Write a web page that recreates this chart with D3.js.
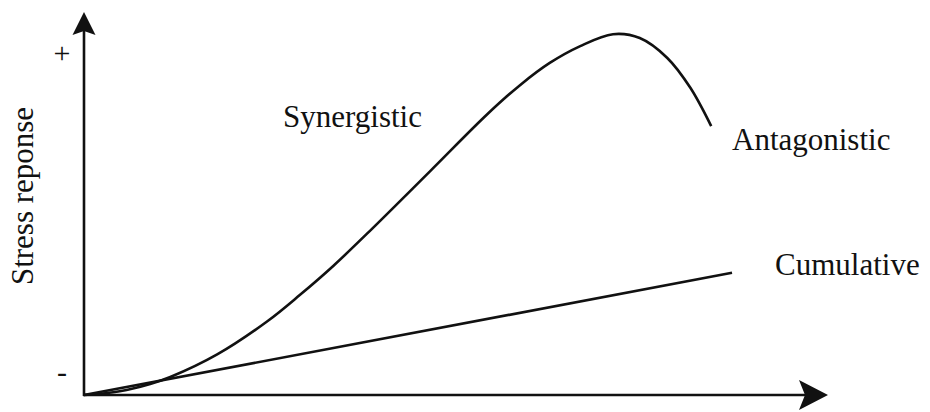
<!DOCTYPE html>
<html>
<head>
<meta charset="utf-8">
<script src="https://cdn.jsdelivr.net/npm/d3@7.9.0/dist/d3.min.js"></script>
<style>
  html, body { margin: 0; padding: 0; background: #fff; }
  svg { display: block; }
  text { font-family: "Liberation Serif", "Times New Roman", serif; fill: #111; }
</style>
</head>
<body>
<div id="chart"></div>
<script>
// stressor intensity (0-100) vs stress response (0-100)
const synDose     = [0, 4.8, 8.9, 11.6, 17.9, 24.6, 29.0, 33.5, 38.4, 46.5, 54.2, 58.6, 62.6, 66.7, 71.1, 74.7, 78.4, 81.5, 84.3];
const synResponse = [0, 1.0, 2.9, 4.7, 10.6, 19.2, 26.1, 33.7, 42.8, 58.4, 73.3, 80.9, 86.7, 91.1, 94.2, 93.2, 88.0, 80.2, 70.2];
const cumDose     = [0, 87.1];
const cumResponse = [0, 31.9];
const yTickLabels = ['-', '+'];
const yTickValues = [5, 89];
const yAxisTitle  = 'Stress reponse';
const curveLabels = ['Synergistic', 'Antagonistic', 'Cumulative'];

const width = 930, height = 412;
const margin = {top: 12, right: 102, bottom: 17, left: 84};

const svg = d3.select('#chart')
  .append('svg')
  .attr('width', width)
  .attr('height', height)
  .attr('viewBox', [0, 0, width, height]);

// scales
const x = d3.scaleLinear()
  .domain([0, 100])
  .range([margin.left, width - margin.right]);
const y = d3.scaleLinear()
  .domain([0, 100])
  .range([height - margin.bottom, margin.top]);

const x0 = x(0), y0 = y(0);
const xEnd = x(100), yEnd = y(100);

// axes with arrow heads
const axes = svg.append('g').attr('stroke', '#111').attr('stroke-width', 2.6);
axes.append('line')
  .attr('x1', x0).attr('y1', y0 + 1)
  .attr('x2', x0).attr('y2', yEnd + 18);
axes.append('line')
  .attr('x1', x0 - 1).attr('y1', y0)
  .attr('x2', xEnd - 20).attr('y2', y0);

svg.append('path')
  .attr('d', `M${x0},${yEnd} L${x0 - 11.5},${yEnd + 23} L${x0},${yEnd + 19} L${x0 + 11.5},${yEnd + 23} Z`)
  .attr('fill', '#111');
svg.append('path')
  .attr('d', `M${xEnd},${y0} L${xEnd - 29},${y0 - 15} L${xEnd - 23},${y0} L${xEnd - 29},${y0 + 15} Z`)
  .attr('fill', '#111');

// + / - tick labels
svg.append('g')
  .selectAll('text')
  .data(yTickLabels)
  .join('text')
    .attr('x', x0 - 22)
    .attr('y', (d, i) => y(yTickValues[i]))
    .attr('dy', (d, i) => i === 0 ? '0.22em' : '0.3em')
    .attr('text-anchor', 'middle')
    .style('font-size', '30px')
    .text(d => d);

// y axis title
svg.append('text')
  .attr('transform', `translate(33,196) rotate(-90)`)
  .attr('text-anchor', 'middle')
  .style('font-size', '31px')
  .text(yAxisTitle);

// curves
const line = d3.line()
  .x(d => x(d[0]))
  .y(d => y(d[1]))
  .curve(d3.curveCatmullRom.alpha(0.5));

svg.append('path')
  .datum(synDose.map((d, i) => [d, synResponse[i]]))
  .attr('d', line)
  .attr('fill', 'none')
  .attr('stroke', '#111')
  .attr('stroke-width', 2.6);

svg.append('path')
  .datum(cumDose.map((d, i) => [d, cumResponse[i]]))
  .attr('d', d3.line().x(d => x(d[0])).y(d => y(d[1])))
  .attr('fill', 'none')
  .attr('stroke', '#111')
  .attr('stroke-width', 2.6);

// curve labels
const labelPos = [[283, 127], [732, 150], [775, 275]];
svg.append('g')
  .selectAll('text')
  .data(curveLabels)
  .join('text')
    .attr('x', (d, i) => labelPos[i][0])
    .attr('y', (d, i) => labelPos[i][1])
    .style('font-size', '31px')
    .text(d => d);
</script>
</body>
</html>
